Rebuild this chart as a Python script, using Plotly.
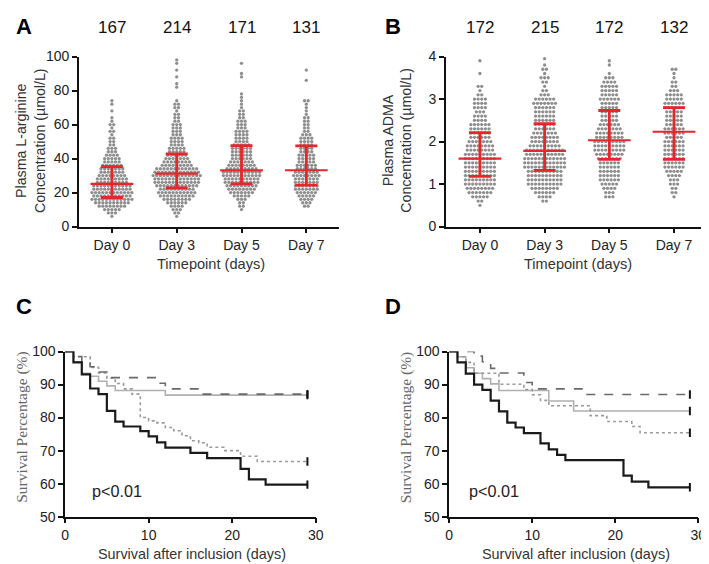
import plotly.graph_objects as go

W, H = 709, 564
def fx(p): return p / W
def fy(p): return 1 - p / H

# ---------------- data ----------------
days = ["Day 0", "Day 3", "Day 5", "Day 7"]
arg_n = [167, 214, 171, 131]
adma_n = [172, 215, 172, 132]

# row levels (GraphPad-style binned scatter rows) and number of dots per row
arg_levels = [4, 6, 8, 10, 12, 14, 16, 18, 20, 22, 24, 26, 28, 30, 32, 34, 36, 38, 40, 42,
              44, 46, 48, 50, 52, 54, 56, 58, 60, 62, 64, 66, 68, 70, 72, 74, 76, 78, 80, 82,
              84, 86, 88, 90, 92, 94, 96, 98]
arg_day0 = [0, 1, 3, 5, 8, 10, 12, 11, 12, 11, 11, 9, 9, 8, 7, 7, 6, 5, 5, 4,
            3, 3, 2, 2, 2, 1, 2, 1, 2, 1, 1, 0, 1, 0, 1, 1, 0, 0, 0, 0,
            0, 0, 0, 0, 0, 0, 0, 0]
arg_day3 = [0, 1, 2, 3, 4, 6, 8, 10, 11, 10, 12, 13, 13, 14, 13, 12, 9, 8, 7, 6,
            5, 5, 4, 4, 4, 3, 3, 3, 3, 2, 2, 2, 1, 2, 2, 1, 0, 0, 0, 1,
            1, 0, 1, 0, 1, 0, 1, 1]
arg_day5 = [0, 0, 0, 1, 2, 2, 3, 5, 7, 8, 9, 10, 10, 11, 11, 9, 8, 7, 6, 6,
            6, 6, 5, 4, 4, 4, 4, 3, 3, 3, 2, 2, 2, 1, 1, 1, 1, 1, 0, 0,
            0, 0, 1, 1, 0, 0, 1, 0]
arg_day7 = [0, 0, 0, 0, 2, 3, 4, 5, 6, 7, 7, 7, 7, 8, 7, 6, 6, 5, 5, 5,
            4, 4, 4, 4, 4, 3, 2, 2, 2, 2, 2, 1, 1, 1, 1, 2, 0, 0, 0, 0,
            0, 1, 0, 0, 1, 0, 0, 0]
arg_median = [25.1, 31.1, 33.0, 33.1]
arg_q1 = [17.1, 22.7, 25.1, 24.4]
arg_q3 = [35.3, 42.7, 47.6, 47.4]

adma_levels = [0.5, 0.6, 0.7, 0.8, 0.9, 1.0, 1.1, 1.2, 1.3, 1.4, 1.5, 1.6, 1.7, 1.8, 1.9, 2.0,
               2.1, 2.2, 2.3, 2.4, 2.5, 2.6, 2.7, 2.8, 2.9, 3.0, 3.1, 3.2, 3.3, 3.4, 3.5, 3.6,
               3.7, 3.8, 3.9, 3.95]
adma_day0 = [1, 2, 5, 7, 8, 9, 9, 9, 9, 9, 9, 9, 9, 8, 8, 7,
             6, 6, 6, 6, 4, 4, 3, 4, 4, 4, 2, 1, 2, 0, 0, 1,
             0, 0, 1, 0]
adma_day3 = [0, 2, 4, 6, 8, 10, 10, 10, 10, 12, 12, 12, 11, 11, 9, 8,
             8, 7, 6, 6, 6, 6, 6, 6, 7, 6, 3, 2, 1, 2, 3, 1,
             2, 1, 0, 1]
adma_day5 = [0, 0, 3, 3, 4, 5, 6, 6, 6, 6, 6, 7, 8, 9, 9, 9,
             8, 8, 7, 6, 5, 5, 5, 5, 5, 6, 5, 5, 5, 4, 3, 1,
             0, 1, 1, 0]
adma_day7 = [0, 0, 1, 2, 2, 3, 3, 4, 5, 6, 6, 6, 6, 6, 6, 6,
             5, 6, 6, 5, 5, 5, 5, 6, 6, 5, 5, 3, 2, 2, 1, 1,
             2, 0, 0, 0]
adma_median = [1.60, 1.78, 2.03, 2.23]
adma_q1 = [1.18, 1.32, 1.58, 1.58]
adma_q3 = [2.21, 2.42, 2.73, 2.80]

# Kaplan-Meier curves (time in days, survival %)
c_black_t = [0, 1, 2, 3, 4, 5, 6, 7, 9, 10, 11, 12, 15, 17, 21, 22, 24, 29]
c_black_s = [100, 96.7, 93.1, 88.8, 87.1, 82.0, 78.8, 77.3, 75.9, 74.3, 72.5, 70.9, 69.3, 67.7, 64.5, 61.3, 59.7, 59.7]
c_dash_t = [0, 1, 2, 3, 4, 5, 11, 12, 16, 29]
c_dash_s = [100, 98.5, 97.0, 95.4, 93.8, 92.1, 90.4, 88.7, 87.1, 87.1]
c_solid_t = [0, 1, 2, 3, 4, 5, 6, 12, 29]
c_solid_s = [100, 96.9, 93.4, 92.5, 91.0, 89.6, 88.2, 86.8, 86.8]
c_dot_t = [0, 1, 3, 4, 5, 6, 7, 8, 9, 10, 11, 12, 13, 14, 15, 16, 17, 19, 21, 23, 29]
c_dot_s = [100, 98.4, 95.2, 93.5, 91.9, 90.3, 88.7, 87.1, 80.0, 79.0, 78.4, 77.0, 76.0, 74.5, 73.0, 72.4, 71.0, 70.0, 68.3, 66.7, 66.7]

d_black_t = [0, 1, 2, 3, 4, 5, 6, 7, 8, 9, 11, 12, 13, 14, 21, 22, 24, 29]
d_black_s = [100, 96.7, 93.3, 90.0, 88.4, 85.1, 81.9, 78.5, 77.0, 75.3, 72.2, 70.4, 68.7, 67.1, 62.4, 60.6, 58.9, 58.9]
d_dash_t = [0, 3, 4, 5, 6, 9, 10, 16, 29]
d_dash_s = [100, 98.6, 96.9, 94.9, 93.5, 90.6, 88.7, 87.0, 87.0]
d_solid_t = [0, 1, 2, 3, 4, 5, 6, 12, 15, 29]
d_solid_s = [100, 98.4, 95.1, 93.4, 91.8, 90.2, 88.2, 85.0, 82.0, 82.0]
d_dot_t = [0, 1, 2, 3, 6, 9, 10, 11, 12, 17, 19, 22, 23, 29]
d_dot_s = [100, 98.4, 96.7, 93.4, 90.1, 88.5, 86.9, 85.2, 83.6, 80.6, 78.8, 77.3, 75.4, 75.4]

# ---------------- styling ----------------
FONT = "Arial, Liberation Sans, sans-serif"
SERIF = "Times New Roman, Liberation Serif, serif"
DOT = "#8e8e8e"
RED = "#e5262a"
AX = "#111111"

fig = go.Figure()

def swarm(levels, counts, xc, d):
    xs, ys = [], []
    for r, (lv, n) in enumerate(zip(levels, counts)):
        for i in range(n):
            xs.append(xc + (i - (n - 1) / 2) * d)
            ys.append(lv)
    return xs, ys

def add_dotplot(levels, groups, med, q1, q3, xa, ya):
    for k, cnt in enumerate(groups):
        xs, ys = swarm(levels, cnt, k, 0.056)
        fig.add_trace(go.Scatter(x=xs, y=ys, mode="markers", xaxis=xa, yaxis=ya, cliponaxis=False,
                                 marker=dict(size=3.3, color=DOT, line=dict(width=0)),
                                 showlegend=False, hoverinfo="skip"))
    bx, by = [], []
    for k in range(len(med)):
        bx += [k, k, None, k - 0.17, k + 0.17, None, k - 0.17, k + 0.17, None]
        by += [q1[k], q3[k], None, q1[k], q1[k], None, q3[k], q3[k], None]
    fig.add_trace(go.Scatter(x=bx, y=by, mode="lines", xaxis=xa, yaxis=ya,
                             line=dict(color=RED, width=2.8), showlegend=False, hoverinfo="skip"))
    mx, my = [], []
    for k in range(len(med)):
        mx += [k - 0.33, k + 0.33, None]
        my += [med[k], med[k], None]
    fig.add_trace(go.Scatter(x=mx, y=my, mode="lines", xaxis=xa, yaxis=ya,
                             line=dict(color=RED, width=2.2), showlegend=False, hoverinfo="skip"))

add_dotplot(arg_levels, [arg_day0, arg_day3, arg_day5, arg_day7], arg_median, arg_q1, arg_q3, "x", "y")
add_dotplot(adma_levels, [adma_day0, adma_day3, adma_day5, adma_day7], adma_median, adma_q1, adma_q3, "x2", "y2")

def add_km(t, s, color, width, dash, xa, ya):
    fig.add_trace(go.Scatter(x=t, y=s, mode="lines", line_shape="hv", xaxis=xa, yaxis=ya,
                             line=dict(color=color, width=width, dash=dash),
                             showlegend=False, hoverinfo="skip"))
    fig.add_trace(go.Scatter(x=[t[-1]], y=[s[-1]], mode="markers", xaxis=xa, yaxis=ya,
                             marker=dict(symbol="line-ns", size=6, line=dict(color=AX, width=2)),
                             showlegend=False, hoverinfo="skip"))

for (t, s, col, w, dsh) in [
        (c_solid_t, c_solid_s, "#b0b0b0", 1.6, "solid"),
        (c_dot_t, c_dot_s, "#9a9a9a", 1.6, "dot"),
        (c_dash_t, c_dash_s, "#6a6a6a", 1.6, "dash"),
        (c_black_t, c_black_s, "#1a1a1a", 2.2, "solid")]:
    add_km(t, s, col, w, dsh, "x3", "y3")
for (t, s, col, w, dsh) in [
        (d_solid_t, d_solid_s, "#b0b0b0", 1.6, "solid"),
        (d_dot_t, d_dot_s, "#9a9a9a", 1.6, "dot"),
        (d_dash_t, d_dash_s, "#6a6a6a", 1.6, "dash"),
        (d_black_t, d_black_s, "#1a1a1a", 2.2, "solid")]:
    add_km(t, s, col, w, dsh, "x4", "y4")

def axis(domain, rng, anchor, **kw):
    d = dict(domain=domain, range=rng, anchor=anchor, showgrid=False, zeroline=False,
             showline=True, linecolor=AX, linewidth=1.6, ticks="outside", ticklen=5,
             tickwidth=1.5, tickcolor=AX, tickfont=dict(family=FONT, size=14, color="#222"),
             fixedrange=True)
    d.update(kw)
    return d

yA = [fy(216.7), fy(41.7)]
yC = [fy(515.3), fy(345.3)]
fig.update_layout(
    width=W, height=H, margin=dict(l=0, r=0, t=0, b=0),
    paper_bgcolor="white", plot_bgcolor="white",
    xaxis=axis([fx(68), fx(333)], [-0.51, 3.51], "y", tickvals=[0, 1, 2, 3], ticktext=days),
    yaxis=axis(yA, [0, 100], "x", tickvals=[0, 20, 40, 60, 80, 100]),
    xaxis2=axis([fx(441.3), fx(706.7)], [-0.527, 3.506], "y2", tickvals=[0, 1, 2, 3], ticktext=days),
    yaxis2=axis(yA, [0, 4], "x2", tickvals=[0, 1, 2, 3, 4]),
    xaxis3=axis([fx(54), fx(309)], [0, 30], "y3", tickvals=[0, 10, 20, 30]),
    yaxis3=axis(yC, [50, 100], "x3", tickvals=[50, 60, 70, 80, 90, 100]),
    xaxis4=axis([fx(444.7), fx(698)], [0, 30], "y4", tickvals=[0, 10, 20, 30]),
    yaxis4=axis(yC, [50, 100], "x4", tickvals=[50, 60, 70, 80, 90, 100]),
)

ann = []
def txt(text, x, y, size, color="#222", angle=0, family=FONT, bold=False, xref="paper", xanchor="center"):
    if bold:
        text = "<b>" + text + "</b>"
    ann.append(dict(text=text, x=x, y=y, xref=xref, yref="paper", showarrow=False,
                    textangle=angle, xanchor=xanchor, yanchor="middle",
                    font=dict(family=family, size=size, color=color)))

# panel letters
txt("A", fx(2), fy(11), 22, "#000", bold=True, xanchor="left")
txt("B", fx(377), fy(11), 22, "#000", bold=True, xanchor="left")
txt("C", fx(2), fy(299), 22, "#000", bold=True, xanchor="left")
txt("D", fx(377), fy(299), 22, "#000", bold=True, xanchor="left")

# n labels
for k in range(4):
    txt(str(arg_n[k]), k, fy(12), 17, "#111", xref="x")
    txt(str(adma_n[k]), k, fy(12), 17, "#111", xref="x2")

# axis titles
txt("Plasma L-arginine<br>Concentration (µmol/L)", fx(19), fy(128), 14.2, "#333", angle=-90)
txt("Plasma ADMA<br>Concentration (µmol/L)", fx(392), fy(128), 14.2, "#333", angle=-90)
txt("Timepoint (days)", fx(202), fy(255), 14.6, "#333")
txt("Timepoint (days)", fx(576), fy(255), 14.6, "#333")
txt("Survival Percentage (%)", fx(10), fy(423), 15.5, "#666", angle=-90, family=SERIF)
txt("Survival Percentage (%)", fx(401), fy(423), 15.5, "#666", angle=-90, family=SERIF)
txt("Survival after inclusion (days)", fx(183), fy(554), 14.4, "#333")
txt("Survival after inclusion (days)", fx(574), fy(554), 14.4, "#333")
txt("p<0.01", fx(107), fy(489), 16.2, "#222")
txt("p<0.01", fx(490), fy(489), 16.2, "#222")

fig.update_layout(annotations=ann)
fig.write_html("out.html")
